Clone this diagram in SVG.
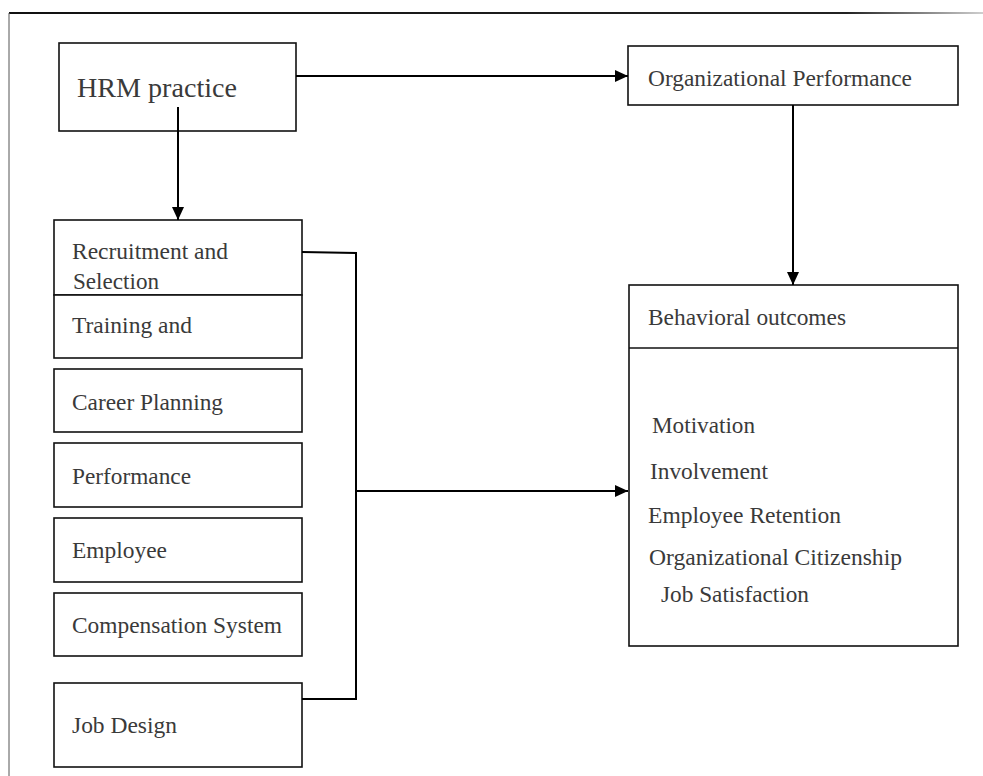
<svg xmlns="http://www.w3.org/2000/svg" width="983" height="776" viewBox="0 0 983 776">
<defs>
<linearGradient id="topg" gradientUnits="userSpaceOnUse" x1="9" y1="0" x2="983" y2="0">
<stop offset="0" stop-color="#111"/>
<stop offset="0.86" stop-color="#222"/>
<stop offset="1" stop-color="#cfcfcf"/>
</linearGradient>
<marker id="ah" viewBox="0 0 13 13" refX="13" refY="6.5" markerWidth="13" markerHeight="13" markerUnits="userSpaceOnUse" orient="auto">
<path d="M0,0.5 L13,6.5 L0,12.5 Z" fill="#000"/>
</marker>
</defs>
<style>
.box{fill:#fff;stroke:#111;stroke-width:1.6}
.t{font-family:"Liberation Serif","Times New Roman",serif;font-size:23px;fill:#3a3a3a}
.big{font-size:28px}
.ln{fill:none;stroke:#000;stroke-width:2}
</style>
<rect width="983" height="776" fill="#fff"/>
<line x1="9" y1="13" x2="983" y2="13" stroke="url(#topg)" stroke-width="2"/>
<line x1="9" y1="13" x2="9" y2="776" stroke="#555" stroke-width="1"/>

<g id="hrm">
<rect class="box" x="59" y="43" width="237" height="88"/>
<text class="t big" x="77" y="97" textLength="160" lengthAdjust="spacingAndGlyphs">HRM practice</text>
</g>
<g id="orgperf">
<rect class="box" x="628" y="46" width="330" height="59"/>
<text class="t" x="648" y="86" textLength="264" lengthAdjust="spacingAndGlyphs">Organizational Performance</text>
</g>
<g id="behavioral">
<rect class="box" x="629" y="285" width="329" height="361"/>
<line x1="629" y1="348" x2="958" y2="348" stroke="#111" stroke-width="1.6"/>
<text class="t" x="648" y="325" textLength="198" lengthAdjust="spacingAndGlyphs">Behavioral outcomes</text>
<text class="t" x="652" y="433" textLength="103" lengthAdjust="spacingAndGlyphs">Motivation</text>
<text class="t" x="650" y="479" textLength="118" lengthAdjust="spacingAndGlyphs">Involvement</text>
<text class="t" x="648" y="523" textLength="193" lengthAdjust="spacingAndGlyphs">Employee Retention</text>
<text class="t" x="649" y="565" textLength="253" lengthAdjust="spacingAndGlyphs">Organizational Citizenship</text>
<text class="t" x="661" y="602" textLength="148" lengthAdjust="spacingAndGlyphs" fill="#222">Job Satisfaction</text>
</g>
<g id="recruitment">
<rect class="box" x="54" y="220" width="248" height="75"/>
<text class="t" x="72" y="259" textLength="156" lengthAdjust="spacingAndGlyphs">Recruitment and</text>
<text class="t" x="73" y="289" textLength="86" lengthAdjust="spacingAndGlyphs">Selection</text>
</g>
<g id="training">
<rect class="box" x="54" y="295" width="248" height="63"/>
<text class="t" x="72" y="333" textLength="120" lengthAdjust="spacingAndGlyphs">Training and</text>
</g>
<g id="career">
<rect class="box" x="54" y="369" width="248" height="63"/>
<text class="t" x="72" y="410" textLength="151" lengthAdjust="spacingAndGlyphs">Career Planning</text>
</g>
<g id="performance">
<rect class="box" x="54" y="443" width="248" height="64"/>
<text class="t" x="72" y="484" textLength="119" lengthAdjust="spacingAndGlyphs">Performance</text>
</g>
<g id="employee">
<rect class="box" x="54" y="518" width="248" height="64"/>
<text class="t" x="72" y="558" textLength="95" lengthAdjust="spacingAndGlyphs">Employee</text>
</g>
<g id="compensation">
<rect class="box" x="54" y="593" width="248" height="63"/>
<text class="t" x="72" y="633" textLength="210" lengthAdjust="spacingAndGlyphs">Compensation System</text>
</g>
<g id="jobdesign">
<rect class="box" x="54" y="683" width="248" height="84"/>
<text class="t" x="72" y="733" textLength="105" lengthAdjust="spacingAndGlyphs">Job Design</text>
</g>

<g id="connectors">
<line class="ln" x1="296" y1="76" x2="628" y2="76" marker-end="url(#ah)"/>
<line class="ln" x1="178" y1="107" x2="178" y2="220" marker-end="url(#ah)"/>
<line class="ln" x1="793" y1="105" x2="793" y2="285" marker-end="url(#ah)"/>
<polyline class="ln" points="302,252 356,253 356,699 302,699"/>
<line class="ln" x1="356" y1="491" x2="628" y2="491" marker-end="url(#ah)"/>
</g>
</svg>
